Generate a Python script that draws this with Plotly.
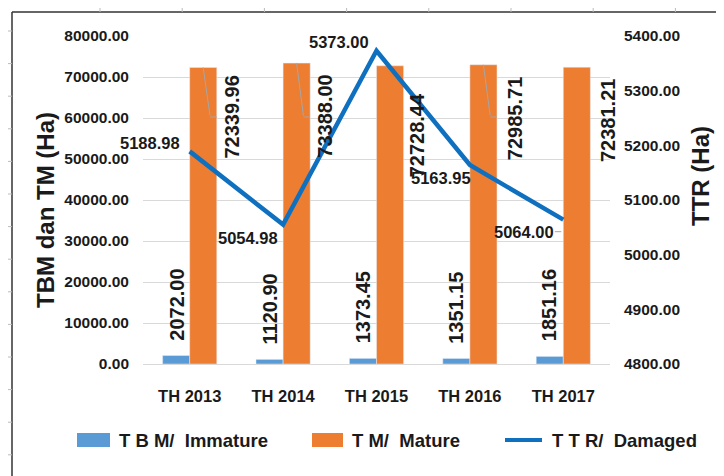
import plotly.graph_objects as go

# ---------------- data ----------------
years = ["TH 2013", "TH 2014", "TH 2015", "TH 2016", "TH 2017"]
tbm_immature = [2072.00, 1120.90, 1373.45, 1351.15, 1851.16]
tm_mature = [72339.96, 73388.00, 72728.44, 72985.71, 72381.21]
ttr_damaged = [5188.98, 5054.98, 5373.00, 5163.95, 5064.00]

legend_names = ["T\u00a0B\u00a0M/\u00a0\u00a0Immature", "T\u00a0M/\u00a0\u00a0Mature", "T\u00a0T\u00a0R/\u00a0\u00a0Damaged"]

# ---------------- styles ----------------
# the page places the figure 8px in from the top-left corner
OFF = 8
W, H = 724 - OFF, 476 - OFF
PL, PR, PT, PB = 143, 610, 36, 364          # plot area in screenshot pixels
ML, MT = PL - OFF, PT - OFF
MR, MB = W - (PR - OFF), H - (PB - OFF)
PW, PH = PR - PL, PB - PT

BLUE_BAR = "#5B9BD5"
ORANGE = "#ED7D31"
LINE = "#0F70C0"
TXT = "#1a1a1a"
GRID = "#D9D9D9"
FONT = "Liberation Sans, Arial, sans-serif"

# label offsets (pixels) -- styling only
ttr_shift = [(-40, 8), (-35, -13), (-38, 9), (-29, -13), (-39, -12)]
ttr_leader = [False, False, False, False, True]
tm_shift = [(42, -6), (42, -10), (40, -26), (45, -10), (44, -10)]
tm_leader = [True, True, False, True, False]


def px(xp):
    return (xp - PL) / PW


def py(yp):
    return (PB - yp) / PH


fig = go.Figure()
fig.add_trace(go.Bar(x=years, y=tbm_immature, name=legend_names[0], marker_color=BLUE_BAR,
                     showlegend=False))
fig.add_trace(go.Bar(x=years, y=tm_mature, name=legend_names[1], marker_color=ORANGE,
                     showlegend=False))
fig.add_trace(go.Scatter(x=years, y=ttr_damaged, name=legend_names[2], yaxis="y2", mode="lines",
                         line=dict(color=LINE, width=4.5), showlegend=False))

ann = []
# TBM labels (rotated, above blue bars)
for c, v in zip(years, tbm_immature):
    ann.append(dict(x=c, y=v, xref="x", yref="y", text=f"{v:.2f}", textangle=-90,
                    showarrow=False, xanchor="center", yanchor="bottom", xshift=-13.5, yshift=13,
                    font=dict(family=FONT, size=20, color=TXT, weight="bold")))
# TM labels (rotated, right of orange bars)
for c, v, (dx, dy), lead in zip(years, tm_mature, tm_shift, tm_leader):
    ann.append(dict(x=c, y=v, xref="x", yref="y", text=f"{v:.2f}", textangle=-90,
                    showarrow=False, xanchor="center", yanchor="top", xshift=dx, yshift=dy,
                    font=dict(family=FONT, size=20, color=TXT, weight="bold")))
    if lead:
        top_px = PB - v / 80000 * PH
        drop = 117 - top_px
        ann.append(dict(x=c, y=v, xref="x", yref="y", text="", showarrow=True, arrowhead=0,
                        arrowwidth=1, arrowcolor="#A6A6A6", ax=7, ay=drop, xshift=13.5,
                        standoff=0, startstandoff=0))
        ann.append(dict(x=c, y=v, xref="x", yref="y", text="", showarrow=True, arrowhead=0,
                        arrowwidth=1, arrowcolor="#A6A6A6", ax=8, ay=0, xshift=20.5, yshift=-drop,
                        standoff=0, startstandoff=0))
# TTR labels
for c, v, (dx, dy), lead in zip(years, ttr_damaged, ttr_shift, ttr_leader):
    ann.append(dict(x=c, y=v, xref="x", yref="y2", text=f"{v:.2f}", showarrow=False,
                    xanchor="center", yanchor="middle", xshift=dx, yshift=dy,
                    font=dict(family=FONT, size=16.5, color=TXT, weight="bold")))
    if lead:
        ann.append(dict(x=c, y=v, xref="x", yref="y2", text="", showarrow=True, arrowhead=0,
                        arrowwidth=1, arrowcolor="#A6A6A6", ax=-8, ay=0, xshift=-2, yshift=dy,
                        standoff=0, startstandoff=0))

# axis titles
ann.append(dict(x=px(45), y=py(210), xref="paper", yref="paper", text="TBM dan TM (Ha)",
                textangle=-90, showarrow=False, xanchor="center", yanchor="middle",
                font=dict(family=FONT, size=24, color=TXT, weight="bold")))
ann.append(dict(x=px(700), y=py(176), xref="paper", yref="paper", text="TTR (Ha)",
                textangle=-90, showarrow=False, xanchor="center", yanchor="middle",
                font=dict(family=FONT, size=24, color=TXT, weight="bold")))

# custom legend
shapes = []
leg_y = 440
leg_items = [(77, 110, "bar", BLUE_BAR, 117), (312, 343, "bar", ORANGE, 350), (505, 542, "line", LINE, 550)]
for (x0, x1, kind, col, tx), name in zip(leg_items, legend_names):
    if kind == "bar":
        shapes.append(dict(type="rect", xref="paper", yref="paper", x0=px(x0), x1=px(x1),
                           y0=py(leg_y + 7), y1=py(leg_y - 7), fillcolor=col, line=dict(width=0)))
    else:
        shapes.append(dict(type="line", xref="paper", yref="paper", x0=px(x0), x1=px(x1),
                           y0=py(leg_y), y1=py(leg_y), line=dict(color=col, width=4)))
    ann.append(dict(x=px(tx), y=py(leg_y), xref="paper", yref="paper", text=name, showarrow=False,
                    xanchor="left", yanchor="middle",
                    font=dict(family=FONT, size=18.5, color=TXT, weight="bold")))

# frame
shapes.append(dict(type="line", xref="paper", yref="paper", x0=px(12), x1=px(12), y0=py(12), y1=py(480),
                   line=dict(color="#333333", width=1.5)))
shapes.append(dict(type="line", xref="paper", yref="paper", x0=px(12), x1=px(730), y0=py(12), y1=py(12),
                   line=dict(color="#333333", width=1.5)))
for k in range(14):
    yy = 31 + 32.6 * k
    shapes.append(dict(type="line", xref="paper", yref="paper", x0=px(8), x1=px(12), y0=py(yy), y1=py(yy),
                       line=dict(color="#BBBBBB", width=1)))
for k in range(8):
    xx = 100 + 82.2 * k
    shapes.append(dict(type="line", xref="paper", yref="paper", x0=px(xx), x1=px(xx), y0=py(8), y1=py(12),
                       line=dict(color="#BBBBBB", width=1)))

fig.update_layout(
    width=W, height=H,
    margin=dict(l=ML, r=MR, t=MT, b=MB),
    paper_bgcolor="white", plot_bgcolor="white",
    barmode="group", bargap=0.42, bargroupgap=0,
    showlegend=False,
    xaxis=dict(range=[-0.5, len(years) - 0.5], autorange=False, showgrid=False, showline=False,
               ticks="", ticklabelstandoff=20,
               tickfont=dict(family=FONT, size=16.5, color=TXT, weight="bold")),
    yaxis=dict(range=[0, 80000], dtick=10000, tickformat=".2f", showgrid=True, gridcolor=GRID,
               gridwidth=1, zeroline=True, zerolinecolor=GRID, zerolinewidth=1, ticks="",
               ticklabelstandoff=13,
               tickfont=dict(family=FONT, size=15.5, color=TXT, weight="bold")),
    yaxis2=dict(range=[4800, 5400], dtick=100, tickformat=".2f", overlaying="y", side="right",
                showgrid=False, zeroline=False, ticks="", ticklabelstandoff=13,
                tickfont=dict(family=FONT, size=15.5, color=TXT, weight="bold")),
    annotations=ann,
    shapes=shapes,
)

fig.write_html("out.html")
